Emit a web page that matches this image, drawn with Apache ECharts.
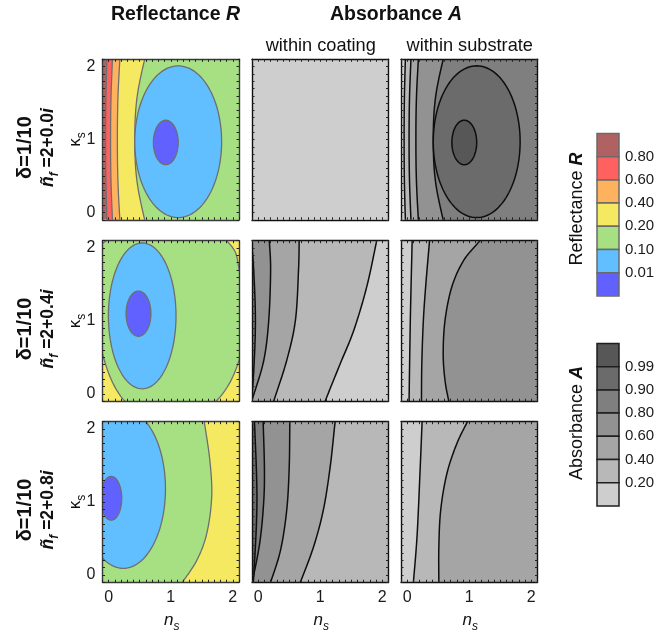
<!DOCTYPE html>
<html><head><meta charset="utf-8">
<script src="https://cdn.jsdelivr.net/npm/echarts@6/dist/echarts.min.js"></script>
<style>html,body{margin:0;padding:0;background:#fff}#c{width:663px;height:632px}</style>
</head><body><div id="c"></div>
<script>
const FONT = '"Liberation Sans", Arial, sans-serif';

// ---- axes ----
const AXIS_MIN = -0.1, AXIS_MAX = 2.1, TICK_STEP = 0.1;
const TICK_LABELS = [0, 1, 2];

// ---- colour levels (index 0 = lowest) ----
const R_LEVELS = ['0.01', '0.10', '0.20', '0.40', '0.60', '0.80'];
const R_COLORS = ['#6161ff', '#62bfff', '#a6e082', '#f6e962', '#ffb25e', '#ff6161', '#b06262'];
const A_LEVELS = ['0.20', '0.40', '0.60', '0.80', '0.90', '0.99'];
const A_COLORS = ['#cecece', '#b8b8b8', '#a5a5a5', '#929292', '#7f7f7f', '#6b6b6b', '#575757'];

// ---- row / column texts ----
const ROW_DELTA = ['δ=1/10', 'δ=1/10', 'δ=1/10'];
const ROW_NF = ['2+0.0', '2+0.4', '2+0.8'];
const COL_SUB = ['', 'within coating', 'within substrate'];

// ---- contours ----
// open boundaries: [level filled on given side, side, [[ns, κs], ...]]
// closed loops:    [level inside, 'loop', [[ns, κs], ...]]
// closed ovals:    [level inside, centre ns, centre κs, half-width, half-height]

// Row 1 reflectance (substrate absorbance contours coincide with these: A level = 6 - R level)
const R1_BG = 6;
const R1_BOUNDS = [
  [5, 'right', [[-0.024, 2.25], [-0.045, 1.6], [-0.05, 1.0], [-0.045, 0.4], [-0.024, -0.25]]],
  [4, 'right', [[0.068, 2.25], [0.038, 1.6], [0.03, 1.0], [0.038, 0.4], [0.068, -0.25]]],
  [3, 'right', [[0.19, 2.25], [0.15, 1.6], [0.14, 1.0], [0.15, 0.4], [0.19, -0.25]]],
  [2, 'right', [[0.62, 2.25], [0.46, 1.6], [0.42, 1.0], [0.46, 0.4], [0.62, -0.25]]]
];
const R1_OVALS = [[1, 1.12, 0.97, 0.70, 1.04], [0, 0.92, 0.96, 0.20, 0.305]];
// Row 1 coating absorbance: uniform
const C1_BG = 0;

// Row 2
const R2_BG = 3;
const R2_BOUNDS = [
  [2, 'loop', [[-0.16, 1.25], [-0.1, 1.97], [-0.044, 2.1], [0.95, 2.7], [1.9, 2.1], [2.1, 1.72],
               [2.16, 1.1], [2.1, 0.46], [1.73, -0.1], [1.0, -0.45], [0.26, -0.1], [-0.1, 0.55]]]
];
const R2_OVALS = [[1, 0.54, 1.07, 0.545, 1.0], [0, 0.48, 1.10, 0.20, 0.31]];
const C2_BG = 0;
const C2_BOUNDS = [
  [1, 'left', [[1.95, 2.25], [1.91, 2.1], [1.75, 1.47], [1.54, 0.87], [1.32, 0.41], [1.08, -0.1], [1.03, -0.25]]],
  [2, 'left', [[0.66, 2.25], [0.66, 2.1], [0.65, 1.70], [0.60, 1.01], [0.46, 0.46], [0.25, -0.1], [0.20, -0.25]]],
  [3, 'left', [[0.18, 2.25], [0.18, 2.1], [0.20, 1.70], [0.17, 1.01], [0.09, 0.46], [-0.08, -0.03], [-0.15, -0.2]]],
  [4, 'left', [[-0.13, 2.2], [-0.08, 1.8], [-0.045, 1.0], [-0.08, 0.2], [-0.13, -0.2]]]
];
const S2_BG = 3;
const S2_BOUNDS = [
  [2, 'left', [[1.24, 2.22], [1.17, 2.1], [0.91, 1.83], [0.72, 1.47], [0.61, 1.01], [0.58, 0.55], [0.61, 0.18], [0.67, -0.1], [0.70, -0.22]]],
  [1, 'left', [[0.37, 2.22], [0.36, 2.1], [0.30, 1.5], [0.26, 1.0], [0.235, 0.4], [0.23, -0.1], [0.23, -0.22]]],
  [0, 'left', [[0.085, 2.22], [0.08, 2.1], [0.05, 1.0], [0.03, -0.1], [0.028, -0.22]]]
];

// Row 3
const R3_BG = 3;
const R3_BOUNDS = [
  [2, 'left', [[1.51, 2.25], [1.54, 2.1], [1.63, 1.57], [1.66, 1.07], [1.58, 0.565], [1.42, 0.2], [1.19, -0.1], [1.10, -0.22]]]
];
const R3_OVALS = [[1, 0.235, 1.18, 0.68, 1.09], [0, 0.04, 1.05, 0.17, 0.30]];
const C3_BG = 1;
const C3_BOUNDS = [
  [2, 'left', [[1.27, 2.25], [1.24, 2.1], [1.16, 1.48], [1.05, 0.89], [0.89, 0.38], [0.68, -0.1], [0.62, -0.22]]],
  [3, 'left', [[0.52, 2.25], [0.51, 2.1], [0.50, 1.48], [0.46, 0.89], [0.36, 0.34], [0.20, -0.1], [0.15, -0.22]]],
  [4, 'left', [[0.08, 2.25], [0.08, 2.1], [0.10, 1.48], [0.09, 1.02], [0.03, 0.47], [-0.08, -0.03], [-0.13, -0.15]]],
  [5, 'left', [[-0.07, 2.25], [-0.06, 2.1], [-0.02, 1.02], [-0.07, 0.01], [-0.1, -0.2]]]
];
const S3_BG = 2;
const S3_BOUNDS = [
  [1, 'left', [[1.02, 2.2], [0.97, 2.1], [0.80, 1.80], [0.64, 1.39], [0.54, 0.89], [0.51, 0.38], [0.51, -0.1], [0.51, -0.22]]],
  [0, 'left', [[0.245, 2.2], [0.24, 2.1], [0.21, 1.48], [0.16, 0.55], [0.10, -0.1], [0.09, -0.22]]]
];

// ---- layout (pixels) ----
const GRID_LEFT = [102.5, 252, 401];
const GRID_TOP = [59.3, 240.7, 421.7];
const GRID_W = 136.5, GRID_H = 160.5;

const flip = arr => arr.map(b => [6 - b[0]].concat(b.slice(1)));
const PANELS = [
  { row: 0, col: 0, pal: 'R', bg: R1_BG, bounds: R1_BOUNDS, ovals: R1_OVALS },
  { row: 0, col: 1, pal: 'A', bg: C1_BG, bounds: [], ovals: [] },
  { row: 0, col: 2, pal: 'A', bg: 6 - R1_BG, bounds: flip(R1_BOUNDS), ovals: flip(R1_OVALS) },
  { row: 1, col: 0, pal: 'R', bg: R2_BG, bounds: R2_BOUNDS, ovals: R2_OVALS },
  { row: 1, col: 1, pal: 'A', bg: C2_BG, bounds: C2_BOUNDS, ovals: [] },
  { row: 1, col: 2, pal: 'A', bg: S2_BG, bounds: S2_BOUNDS, ovals: [] },
  { row: 2, col: 0, pal: 'R', bg: R3_BG, bounds: R3_BOUNDS, ovals: R3_OVALS },
  { row: 2, col: 1, pal: 'A', bg: C3_BG, bounds: C3_BOUNDS, ovals: [] },
  { row: 2, col: 2, pal: 'A', bg: S3_BG, bounds: S3_BOUNDS, ovals: [] }
];

function spline(P, closed) {
  const out = [], n = P.length, steps = 16;
  const get = i => closed ? P[(i + n) % n] : P[Math.max(0, Math.min(n - 1, i))];
  const segs = closed ? n : n - 1;
  for (let i = 0; i < segs; i++) {
    const p0 = get(i - 1), p1 = get(i), p2 = get(i + 1), p3 = get(i + 2);
    for (let s = 0; s < steps; s++) {
      const t = s / steps, t2 = t * t, t3 = t2 * t;
      const f = k => 0.5 * ((2 * p1[k]) + (-p0[k] + p2[k]) * t + (2 * p0[k] - 5 * p1[k] + 4 * p2[k] - p3[k]) * t2 + (-p0[k] + 3 * p1[k] - 3 * p2[k] + p3[k]) * t3);
      out.push([f(0), f(1)]);
    }
  }
  if (!closed) out.push(P[n - 1]);
  return out;
}

function makeRender(panel) {
  const colors = panel.pal === 'R' ? R_COLORS : A_COLORS;
  const stroke = panel.pal === 'R' ? '#6e6e6e' : '#0e0e0e';
  const lw = panel.pal === 'R' ? 1.3 : 1.5;
  const layers = [['bg', panel.bg]]
    .concat(panel.bounds.map(b => ['bound', b]))
    .concat(panel.ovals.map(o => ['oval', o]));
  panel.layers = layers;
  return function (params, api) {
    const L = layers[params.dataIndex];
    const cs = params.coordSys;
    if (L[0] === 'bg') {
      return { type: 'rect', shape: { x: cs.x, y: cs.y, width: cs.width, height: cs.height }, style: { fill: colors[L[1]] } };
    }
    if (L[0] === 'bound') {
      const [lev, side, pts] = L[1];
      const pix = pts.map(p => api.coord(p));
      if (side === 'loop') {
        return { type: 'polygon', shape: { points: spline(pix, true) }, style: { fill: colors[lev], stroke: stroke, lineWidth: lw } };
      }
      const px = spline(pix, false);
      const ex = side === 'left' ? cs.x - 60 : cs.x + cs.width + 60;
      px.push([ex, px[px.length - 1][1]]);
      px.push([ex, px[0][1]]);
      return { type: 'polygon', shape: { points: px }, style: { fill: colors[lev], stroke: stroke, lineWidth: lw } };
    }
    const [lev, cx, cy, rx, ry] = L[1];
    const c = api.coord([cx, cy]);
    const sz = api.size([rx, ry]);
    const pts = [];
    for (let k = 0; k < 120; k++) {
      const a = k / 120 * Math.PI * 2;
      pts.push([c[0] + sz[0] * Math.cos(a), c[1] + sz[1] * Math.sin(a)]);
    }
    return { type: 'polygon', shape: { points: pts }, style: { fill: colors[lev], stroke: stroke, lineWidth: lw } };
  };
}

const labelFmt = v => {
  const r = Math.round(v);
  return (Math.abs(v - r) < 1e-6 && TICK_LABELS.indexOf(r) >= 0) ? String(r) : '';
};

const grid = [], xAxis = [], yAxis = [], series = [];
PANELS.forEach((p, i) => {
  grid.push({ left: GRID_LEFT[p.col], top: GRID_TOP[p.row], width: GRID_W, height: GRID_H });
  const frame = p.col === 0 ? '#3a3a3a' : '#111';
  const base = {
    gridIndex: i, type: 'value', min: AXIS_MIN, max: AXIS_MAX, interval: TICK_STEP, z: 10,
    splitLine: { show: false },
    axisLine: { show: true, onZero: false, lineStyle: { color: frame, width: 1.4 } },
    axisTick: { show: true, inside: true, length: 2.5, lineStyle: { color: '#222', width: 1 } },
    axisLabel: { show: false }
  };
  const lbl = { show: true, formatter: labelFmt, color: '#1a1a1a', fontSize: 16, fontFamily: FONT, margin: 7 };
  xAxis.push(Object.assign({}, base, { position: 'bottom', axisLabel: p.row === 2 ? lbl : { show: false } }));
  xAxis.push(Object.assign({}, base, { position: 'top' }));
  yAxis.push(Object.assign({}, base, { position: 'left', axisLabel: p.col === 0 ? lbl : { show: false } }));
  yAxis.push(Object.assign({}, base, { position: 'right' }));
  const render = makeRender(p);
  series.push({
    type: 'custom', xAxisIndex: 2 * i, yAxisIndex: 2 * i, clip: true, z: 2,
    renderItem: render, data: p.layers.map((_, k) => [k, 0]), silent: true
  });
});

// ---- texts ----
const graphic = [];
const richBase = {
  T: { font: 'bold 19.5px ' + FONT, fill: '#111', lineHeight: 24 },
  Ti: { font: 'italic bold 19.5px ' + FONT, fill: '#111', lineHeight: 24 },
  d: { font: 'bold 20px ' + FONT, fill: '#111', lineHeight: 24 },
  bi: { font: 'italic bold 18px ' + FONT, fill: '#111', lineHeight: 22 },
  n: { font: '17px ' + FONT, fill: '#111', lineHeight: 22 },
  it: { font: 'italic 17px ' + FONT, fill: '#111', lineHeight: 22 },
  subb: { font: 'italic bold 12px ' + FONT, fill: '#111', height: 9, verticalAlign: 'bottom' },
  sub: { font: '12px ' + FONT, fill: '#111', height: 9, verticalAlign: 'bottom' },
  subi: { font: 'italic 12px ' + FONT, fill: '#111', height: 9, verticalAlign: 'bottom' },
  bL: { font: 'bold 17.5px ' + FONT, fill: '#111', lineHeight: 22 },
  biL: { font: 'italic bold 17.5px ' + FONT, fill: '#111', lineHeight: 22 },
  nL: { font: '18px ' + FONT, fill: '#111', lineHeight: 22 },
  s: { font: '18.2px ' + FONT, fill: '#111', lineHeight: 22 }
};
function txt(x, y, text, extra) {
  return Object.assign({ type: 'text', x: x, y: y, silent: true,
    style: { text: text, rich: richBase, textAlign: 'center', textVerticalAlign: 'middle' } }, extra || {});
}
// column titles
const colCenter = c => GRID_LEFT[c] + GRID_W / 2;
graphic.push(txt(175.5, 15, '{T|Reflectance }{Ti|R}'));
graphic.push(txt(396, 15, '{T|Absorbance }{Ti|A}'));
COL_SUB.forEach((s, c) => { if (s) graphic.push(txt(colCenter(c) + 0.5, 46, '{s|' + s + '}')); });
// x axis names
[0, 1, 2].forEach(c => graphic.push(txt(colCenter(c) + 1, 620, '{it|n}{subi|s}')));
// row labels (rotated)
ROW_NF.forEach((nf, r) => {
  const cy = GRID_TOP[r] + GRID_H / 2;
  graphic.push({
    type: 'group', x: 37, y: cy + 8, rotation: Math.PI / 2, silent: true,
    children: [
      txt(0, -12, '{d|' + ROW_DELTA[r] + '}'),
      txt(0, 11, '{biL|ñ}{subb|f}{bL| =' + nf + '}{biL|i}'),
      txt(8, 38, '{n|κ}{sub|s}')
    ]
  });
});
// colour bars
function colorBar(top, colors, levels, strokeColor, title, titleY) {
  const h = 23.2, x = 597, w = 22;
  for (let j = 0; j < colors.length; j++) {
    const lev = colors.length - 1 - j;
    graphic.push({ type: 'rect', silent: true, shape: { x: x, y: top + j * h, width: w, height: h },
      style: { fill: colors[lev], stroke: strokeColor, lineWidth: 1.5 } });
  }
  levels.forEach((t, i) => {
    graphic.push({ type: 'text', silent: true, x: 625, y: top + (levels.length - i) * h,
      style: { text: t, font: '15px ' + FONT, fill: '#1a1a1a', textAlign: 'left', textVerticalAlign: 'middle' } });
  });
  graphic.push({ type: 'group', x: 577, y: titleY, rotation: Math.PI / 2, silent: true,
    children: [txt(0, 0, title)] });
}
colorBar(133.5, R_COLORS, R_LEVELS, '#6a6a6a', '{nL|Reflectance }{bi|R}', 209);
colorBar(343.5, A_COLORS, A_LEVELS, '#1e1e1e', '{nL|Absorbance }{bi|A}', 423);

const chart = echarts.init(document.getElementById('c'));
chart.setOption({ animation: false, backgroundColor: '#fff', grid, xAxis, yAxis, series, graphic });
</script></body></html>
